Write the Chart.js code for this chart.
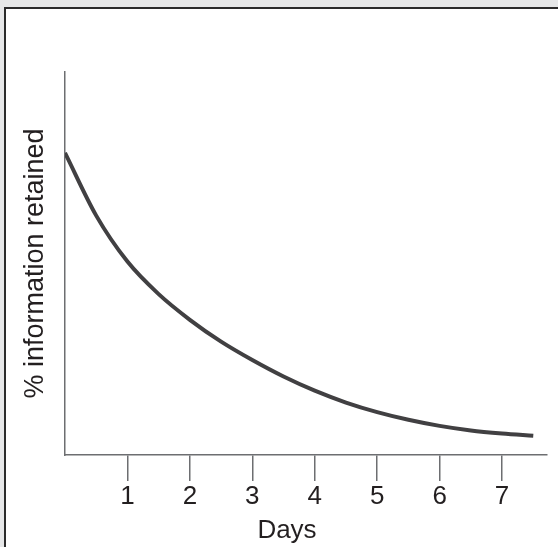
<!DOCTYPE html>
<html>
<head>
<meta charset="utf-8">
<script src="https://cdn.jsdelivr.net/npm/chart.js@4"></script>
<style>
    body { margin: 0; background: #e6e7e8; width: 558px; height: 547px; overflow: hidden; }
    #frame {
        position: absolute; left: 4px; top: 7px; width: 600px; height: 600px;
        background: #fff; border-left: 2px solid #2b2b2b; border-top: 2px solid #2b2b2b;
    }
    #chart { position: absolute; left: 0; top: 0; }
</style>
</head>
<body>
<div id="frame"></div>
<canvas id="chart" width="558" height="547"></canvas>
<script>
// Values (every half day)
const days = [0, 0.5, 1, 1.5, 2, 2.5, 3, 3.5, 4, 4.5, 5, 5.5, 6, 6.5, 7, 7.5];
const retained = [78.9, 62.5, 50.5, 42.0, 35.3, 29.6, 24.8, 20.5, 16.8, 13.7, 11.2, 9.2, 7.6, 6.4, 5.6, 5.0];
const tickDays = [1, 2, 3, 4, 5, 6, 7];

const textColor = "#231f20";
const axisColor = "#6d6e71";
const fontFamily = "'Liberation Sans', Arial, sans-serif";

// Draw the "Days" title a bit left of centre, like the original
const daysTitle = {
    id: "daysTitle",
    afterDraw(chart) {
        const ctx = chart.ctx;
        ctx.save();
        ctx.font = "26px " + fontFamily;
        ctx.fillStyle = textColor;
        ctx.textAlign = "center";
        ctx.textBaseline = "alphabetic";
        ctx.fillText("Days", 287, 538);
        ctx.restore();
    },
};

const points = days.map((d, i) => ({ x: d, y: retained[i] }));

new Chart(document.getElementById("chart").getContext("2d"), {
    type: "line",
    data: {
        datasets: [
            {
                data: points,
                borderColor: "#414042",
                borderWidth: 4,
                pointRadius: 0,
                cubicInterpolationMode: "monotone",
                fill: false,
            },
        ],
    },
    options: {
        responsive: false,
        animation: false,
        layout: { padding: { top: 72, right: 11, left: 0, bottom: 0 } },
        plugins: { legend: { display: false }, tooltip: { enabled: false } },
        scales: {
            x: {
                type: "linear",
                min: 0,
                max: 7.72,
                afterBuildTicks: (scale) => {
                    scale.ticks = tickDays.map((v) => ({ value: v }));
                },
                afterFit: (scale) => {
                    scale.height = 92;
                },
                grid: {
                    display: true,
                    drawOnChartArea: false,
                    drawTicks: true,
                    tickLength: 26,
                    color: axisColor,
                    lineWidth: 1.5,
                },
                border: { display: true, color: axisColor, width: 1.5 },
                ticks: {
                    padding: 0,
                    color: textColor,
                    font: { family: fontFamily, size: 26 },
                    maxRotation: 0,
                },
                title: { display: false },
            },
            y: {
                min: 0,
                max: 100,
                afterFit: (scale) => {
                    scale.width = 65;
                },
                grid: { display: false },
                border: { display: true, color: axisColor, width: 1.5 },
                ticks: { display: false },
                title: {
                    display: true,
                    text: "% information retained",
                    color: textColor,
                    font: { family: fontFamily, size: 27 },
                    padding: { top: 19, bottom: 0 },
                },
            },
        },
    },
    plugins: [daysTitle],
});
</script>
</body>
</html>
